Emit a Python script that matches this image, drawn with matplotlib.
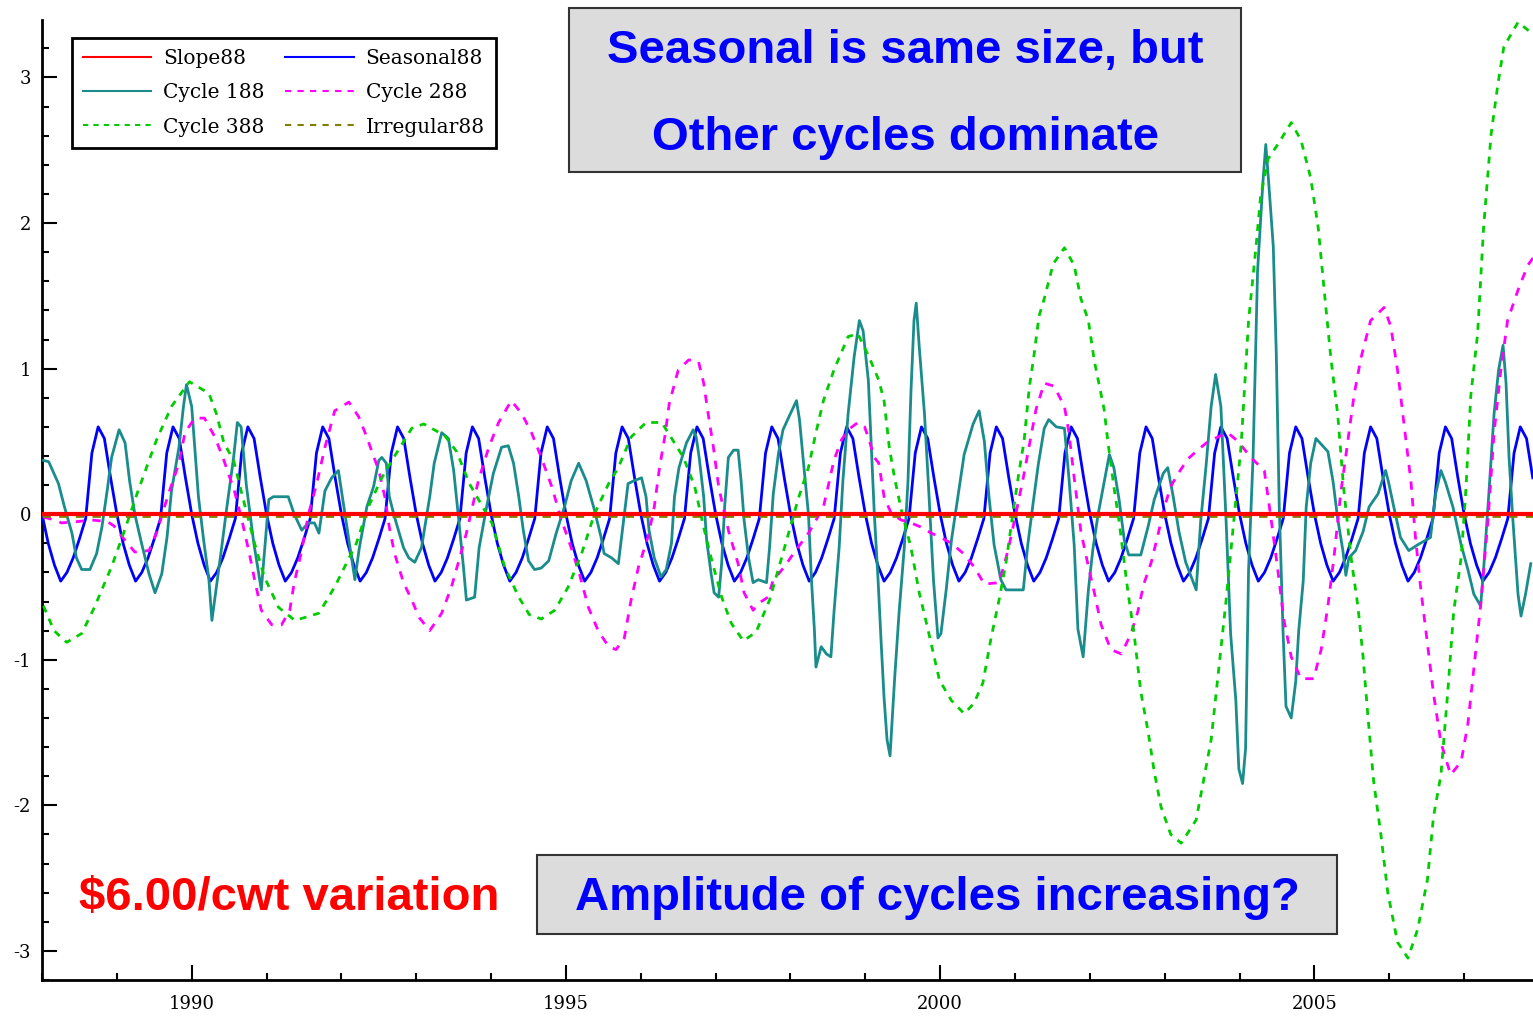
import numpy as np
import matplotlib
matplotlib.use('Agg')
import matplotlib.pyplot as plt
from matplotlib.patches import Rectangle
from matplotlib.ticker import MultipleLocator

plt.rcParams['axes.unicode_minus'] = False

# seasonal component, one value per month (Jan..Dec), same every year
seasonal_month = [0.0, -0.2, -0.35, -0.46, -0.4, -0.3, -0.17, -0.03, 0.42, 0.6, 0.52, 0.25]
n_years = 20

# cycle 188 (teal) at turning points
c188_year = [1988.02, 1988.09, 1988.22, 1988.30, 1988.40, 1988.46, 1988.53, 1988.64, 1988.73, 1988.80,
             1988.87, 1988.93, 1989.03, 1989.11, 1989.17, 1989.24, 1989.33, 1989.43, 1989.51, 1989.60,
             1989.67, 1989.73, 1989.83, 1989.89, 1989.93, 1990.00, 1990.04, 1990.09, 1990.16, 1990.23,
             1990.27, 1990.33, 1990.40, 1990.47, 1990.56, 1990.61, 1990.66, 1990.73, 1990.83, 1990.93,
             1991.03, 1991.09, 1991.29, 1991.37, 1991.47, 1991.56, 1991.64, 1991.70, 1991.78, 1991.87,
             1991.96, 1992.10, 1992.18, 1992.24, 1992.34, 1992.43, 1992.50, 1992.54, 1992.60, 1992.64,
             1992.71, 1992.83, 1992.90, 1992.98, 1993.07, 1993.18, 1993.24, 1993.34, 1993.43, 1993.50,
             1993.56, 1993.63, 1993.67, 1993.78, 1993.84, 1993.94, 1994.03, 1994.14, 1994.23, 1994.30,
             1994.37, 1994.43, 1994.50, 1994.58, 1994.67, 1994.77, 1994.87, 1994.98, 1995.07, 1995.17,
             1995.27, 1995.38, 1995.47, 1995.51, 1995.61, 1995.70, 1995.78, 1995.83, 1995.91, 1996.01,
             1996.07, 1996.11, 1996.18, 1996.27, 1996.34, 1996.41, 1996.45, 1996.51, 1996.61, 1996.70,
             1996.74, 1996.78, 1996.84, 1996.88, 1996.94, 1996.98, 1997.04, 1997.08, 1997.12, 1997.17,
             1997.24, 1997.30, 1997.34, 1997.38, 1997.44, 1997.50, 1997.57, 1997.68, 1997.72, 1997.77,
             1997.84, 1997.90, 1997.98, 1998.08, 1998.12, 1998.18, 1998.24, 1998.28, 1998.32, 1998.34,
             1998.41, 1998.48, 1998.54, 1998.58, 1998.65, 1998.70, 1998.77, 1998.85, 1998.92, 1998.97,
             1999.04, 1999.08, 1999.12, 1999.17, 1999.21, 1999.25, 1999.29, 1999.33, 1999.39, 1999.45,
             1999.52, 1999.57, 1999.61, 1999.65, 1999.68, 1999.72, 1999.79, 1999.84, 1999.91, 1999.97,
             2000.01, 2000.08, 2000.15, 2000.24, 2000.32, 2000.44, 2000.52, 2000.59, 2000.65, 2000.72,
             2000.81, 2000.88, 2001.11, 2001.17, 2001.24, 2001.31, 2001.39, 2001.45, 2001.55, 2001.66,
             2001.72, 2001.79, 2001.84, 2001.91, 2001.98, 2002.04, 2002.11, 2002.19, 2002.26, 2002.32,
             2002.39, 2002.46, 2002.52, 2002.68, 2002.78, 2002.86, 2002.98, 2003.04, 2003.11, 2003.19,
             2003.28, 2003.42, 2003.48, 2003.55, 2003.62, 2003.68, 2003.75, 2003.82, 2003.88, 2003.95,
             2003.99, 2004.04, 2004.08, 2004.12, 2004.18, 2004.24, 2004.31, 2004.35, 2004.39, 2004.45,
             2004.49, 2004.53, 2004.58, 2004.62, 2004.69, 2004.75, 2004.79, 2004.85, 2004.89, 2004.95,
             2005.02, 2005.11, 2005.18, 2005.25, 2005.31, 2005.38, 2005.42, 2005.46, 2005.55, 2005.65,
             2005.73, 2005.85, 2005.95, 2005.99, 2006.06, 2006.15, 2006.26, 2006.38, 2006.55, 2006.62,
             2006.69, 2006.75, 2006.85, 2006.96, 2007.05, 2007.13, 2007.22, 2007.26, 2007.33, 2007.40,
             2007.46, 2007.52, 2007.56, 2007.60, 2007.65, 2007.72, 2007.76, 2007.82, 2007.89]
c188_val = [0.37, 0.36, 0.21, 0.05, -0.13, -0.30, -0.38, -0.38, -0.27, -0.09,
            0.16, 0.39, 0.58, 0.49, 0.23, 0.0, -0.20, -0.41, -0.54, -0.41,
            -0.16, 0.16, 0.46, 0.74, 0.89, 0.74, 0.46, 0.12, -0.18, -0.45,
            -0.73, -0.50, -0.23, 0.05, 0.39, 0.63, 0.60, 0.20, -0.20, -0.52,
            0.10, 0.12, 0.12, 0.0, -0.11, -0.06, -0.06, -0.13, 0.16, 0.25,
            0.30, -0.18, -0.45, -0.23, 0.05, 0.19, 0.37, 0.39, 0.35, 0.12,
            -0.02, -0.23, -0.30, -0.33, -0.23, 0.12, 0.35, 0.56, 0.52, 0.30,
            0.0, -0.36, -0.59, -0.57, -0.23, 0.05, 0.28, 0.46, 0.47, 0.35,
            0.12, -0.11, -0.32, -0.38, -0.37, -0.32, -0.13, 0.05, 0.23, 0.35,
            0.23, 0.03, -0.16, -0.27, -0.30, -0.34, 0.0, 0.21, 0.23, 0.25,
            0.12, -0.11, -0.30, -0.43, -0.38, -0.20, 0.12, 0.32, 0.49, 0.58,
            0.53, 0.39, 0.12, -0.18, -0.41, -0.54, -0.57, -0.34, 0.05, 0.39,
            0.44, 0.44, 0.23, -0.04, -0.30, -0.47, -0.45, -0.47, -0.23, 0.14,
            0.42, 0.58, 0.67, 0.78, 0.65, 0.32, 0.0, -0.45, -0.80, -1.05,
            -0.91, -0.96, -0.98, -0.68, -0.23, 0.23, 0.69, 1.08, 1.33, 1.26,
            0.92, 0.46, 0.0, -0.45, -0.87, -1.26, -1.55, -1.66, -1.14, -0.68,
            -0.23, 0.23, 0.85, 1.33, 1.45, 1.15, 0.69, 0.23, -0.45, -0.85,
            -0.82, -0.52, -0.18, 0.13, 0.41, 0.62, 0.71, 0.50, 0.13, -0.21,
            -0.45, -0.52, -0.52, -0.21, 0.07, 0.34, 0.59, 0.65, 0.60, 0.59,
            0.25, -0.21, -0.79, -0.98, -0.52, -0.24, 0.0, 0.22, 0.41, 0.32,
            0.10, -0.18, -0.28, -0.28, -0.08, 0.10, 0.28, 0.32, 0.13, -0.12,
            -0.33, -0.52, -0.05, 0.32, 0.74, 0.96, 0.74, -0.05, -0.82, -1.28,
            -1.75, -1.85, -1.61, -0.38, 0.39, 1.67, 2.27, 2.54, 2.27, 1.84,
            1.11, 0.05, -0.80, -1.32, -1.40, -1.15, -0.80, -0.46, 0.05, 0.35,
            0.52, 0.47, 0.43, 0.22, -0.03, -0.25, -0.42, -0.30, -0.25, -0.12,
            0.05, 0.14, 0.30, 0.22, 0.05, -0.16, -0.25, -0.21, -0.16, 0.14,
            0.30, 0.22, 0.05, -0.21, -0.38, -0.55, -0.63, -0.38, 0.14, 0.69,
            0.99, 1.16, 0.90, 0.39, -0.03, -0.55, -0.70, -0.55, -0.34]

# cycle 288 (magenta dashed)
c288_year = [1988.02, 1988.17, 1988.26, 1988.49, 1988.66, 1988.87, 1988.96, 1989.11, 1989.24, 1989.43,
             1989.53, 1989.69, 1989.83, 1989.91, 1990.04, 1990.17, 1990.31, 1990.43, 1990.57, 1990.67,
             1990.77, 1990.84, 1990.93, 1991.07, 1991.20, 1991.31, 1991.37, 1991.47, 1991.56, 1991.67,
             1991.78, 1991.91, 1992.10, 1992.23, 1992.34, 1992.40, 1992.50, 1992.58, 1992.64, 1992.71,
             1992.83, 1992.94, 1993.04, 1993.18, 1993.34, 1993.47, 1993.58, 1993.67, 1993.83, 1993.97,
             1994.10, 1994.27, 1994.41, 1994.54, 1994.67, 1994.81, 1994.94, 1995.07, 1995.18, 1995.30,
             1995.43, 1995.57, 1995.67, 1995.78, 1995.87, 1995.97, 1996.10, 1996.18, 1996.25, 1996.32,
             1996.38, 1996.50, 1996.64, 1996.77, 1996.84, 1996.90, 1996.97, 1997.04, 1997.12, 1997.18,
             1997.30, 1997.38, 1997.50, 1997.58, 1997.70, 1997.77, 1997.84, 1997.92, 1998.04, 1998.14,
             1998.24, 1998.32, 1998.44, 1998.52, 1998.58, 1998.68, 1998.77, 1998.90, 1998.99, 1999.05,
             1999.12, 1999.18, 1999.25, 1999.35, 1999.48, 1999.61, 1999.75, 1999.88, 2000.01, 2000.15,
             2000.31, 2000.45, 2000.59, 2000.79, 2000.91, 2001.01, 2001.11, 2001.19, 2001.28, 2001.39,
             2001.52, 2001.66, 2001.72, 2001.79, 2001.88, 2001.98, 2002.06, 2002.15, 2002.28, 2002.42,
             2002.55, 2002.64, 2002.72, 2002.82, 2002.91, 2002.99, 2003.08, 2003.18, 2003.31, 2003.44,
             2003.58, 2003.71, 2003.84, 2003.98, 2004.15, 2004.33, 2004.42, 2004.51, 2004.59, 2004.69,
             2004.82, 2004.99, 2005.09, 2005.18, 2005.26, 2005.35, 2005.45, 2005.53, 2005.62, 2005.75,
             2005.93, 2006.02, 2006.11, 2006.19, 2006.29, 2006.35, 2006.42, 2006.51, 2006.59, 2006.69,
             2006.82, 2006.96, 2007.05, 2007.13, 2007.22, 2007.32, 2007.40, 2007.49, 2007.58, 2007.72,
             2007.85, 2007.92]
c288_val = [-0.02, -0.04, -0.06, -0.05, -0.04, -0.05, -0.08, -0.18, -0.26, -0.25,
            -0.13, 0.14, 0.35, 0.56, 0.66, 0.66, 0.53, 0.37, 0.16, -0.04,
            -0.27, -0.45, -0.66, -0.76, -0.76, -0.66, -0.47, -0.25, 0.0, 0.21,
            0.46, 0.71, 0.77, 0.67, 0.53, 0.44, 0.30, 0.12, -0.09, -0.27,
            -0.47, -0.59, -0.71, -0.80, -0.68, -0.50, -0.30, -0.13, 0.23, 0.46,
            0.63, 0.78, 0.69, 0.56, 0.39, 0.19, -0.04, -0.23, -0.41, -0.64,
            -0.80, -0.91, -0.93, -0.85, -0.59, -0.36, -0.15, 0.05, 0.32, 0.53,
            0.76, 0.99, 1.06, 1.05, 0.90, 0.69, 0.46, 0.19, 0.0, -0.13,
            -0.34, -0.54, -0.66, -0.61, -0.57, -0.45, -0.41, -0.36, -0.27, -0.20,
            -0.13, -0.06, 0.05, 0.23, 0.37, 0.51, 0.58, 0.63, 0.60, 0.51,
            0.39, 0.35, 0.12, 0.0, -0.04, -0.06, -0.09, -0.13, -0.16, -0.20,
            -0.27, -0.36, -0.48, -0.47, -0.24, 0.0, 0.25, 0.47, 0.72, 0.90,
            0.88, 0.74, 0.56, 0.25, -0.12, -0.36, -0.54, -0.76, -0.93, -0.96,
            -0.82, -0.67, -0.48, -0.33, -0.14, 0.04, 0.19, 0.28, 0.38, 0.44,
            0.50, 0.53, 0.56, 0.50, 0.39, 0.30, -0.03, -0.38, -0.72, -0.98,
            -1.13, -1.13, -0.93, -0.63, -0.30, 0.14, 0.52, 0.82, 1.07, 1.33,
            1.42, 1.29, 0.99, 0.65, 0.22, -0.16, -0.51, -0.89, -1.23, -1.57,
            -1.79, -1.70, -1.44, -1.06, -0.63, -0.03, 0.56, 0.99, 1.33, 1.54,
            1.71, 1.76]

# cycle 388 (green dashed)
c388_year = [1988.02, 1988.16, 1988.33, 1988.53, 1988.70, 1988.93, 1989.07, 1989.29, 1989.53, 1989.73,
             1989.97, 1990.23, 1990.33, 1990.43, 1990.56, 1990.67, 1990.84, 1990.97, 1991.16, 1991.38,
             1991.70, 1991.91, 1992.20, 1992.36, 1992.54, 1992.70, 1992.94, 1993.10, 1993.38, 1993.54,
             1993.71, 1994.01, 1994.18, 1994.37, 1994.51, 1994.67, 1994.85, 1995.03, 1995.21, 1995.38,
             1995.57, 1995.70, 1995.87, 1996.07, 1996.28, 1996.45, 1996.57, 1996.72, 1996.84, 1996.94,
             1997.08, 1997.21, 1997.37, 1997.54, 1997.72, 1997.92, 1998.10, 1998.24, 1998.34, 1998.44,
             1998.58, 1998.77, 1998.90, 1999.05, 1999.18, 1999.25, 1999.32, 1999.39, 1999.48, 1999.61,
             1999.72, 1999.84, 1999.99, 2000.15, 2000.32, 2000.45, 2000.57, 2000.68, 2000.79, 2000.88,
             2000.97, 2001.05, 2001.12, 2001.19, 2001.25, 2001.32, 2001.39, 2001.51, 2001.66, 2001.79,
             2001.88, 2001.98, 2002.06, 2002.12, 2002.19, 2002.24, 2002.32, 2002.39, 2002.51, 2002.59,
             2002.68, 2002.78, 2002.86, 2002.95, 2003.08, 2003.22, 2003.42, 2003.62, 2003.82, 2004.02,
             2004.12, 2004.22, 2004.28, 2004.38, 2004.51, 2004.69, 2004.82, 2004.95, 2005.05, 2005.13,
             2005.22, 2005.31, 2005.39, 2005.49, 2005.58, 2005.65, 2005.71, 2005.79, 2005.89, 2005.98,
             2006.11, 2006.25, 2006.38, 2006.51, 2006.59, 2006.69, 2006.78, 2006.86, 2006.96, 2007.02,
             2007.09, 2007.18, 2007.26, 2007.36, 2007.45, 2007.53, 2007.72, 2007.89]
c388_val = [-0.63, -0.80, -0.88, -0.82, -0.64, -0.36, -0.16, 0.17, 0.51, 0.74,
            0.91, 0.83, 0.69, 0.49, 0.37, 0.14, -0.20, -0.43, -0.64, -0.73,
            -0.68, -0.50, -0.20, 0.05, 0.25, 0.39, 0.59, 0.62, 0.54, 0.43,
            0.21, -0.06, -0.36, -0.57, -0.69, -0.72, -0.66, -0.50, -0.27, 0.0,
            0.21, 0.32, 0.53, 0.63, 0.63, 0.49, 0.39, 0.19, -0.09, -0.30,
            -0.57, -0.75, -0.87, -0.81, -0.59, -0.23, 0.10, 0.32, 0.56, 0.78,
            0.99, 1.22, 1.24, 1.08, 0.92, 0.78, 0.46, 0.25, 0.03, -0.23,
            -0.54, -0.80, -1.14, -1.28, -1.37, -1.30, -1.16, -0.85, -0.58, -0.33,
            0.0, 0.28, 0.50, 0.87, 1.08, 1.36, 1.48, 1.72, 1.83, 1.71,
            1.48, 1.33, 1.05, 0.90, 0.72, 0.50, 0.19, -0.05, -0.54, -0.82,
            -1.22, -1.50, -1.77, -2.01, -2.20, -2.26, -2.10, -1.55, -0.59, 0.47,
            1.33, 1.84, 2.18, 2.44, 2.54, 2.69, 2.57, 2.31, 1.97, 1.54,
            1.07, 0.69, 0.18, -0.30, -0.63, -0.98, -1.36, -1.83, -2.21, -2.60,
            -2.94, -3.05, -2.85, -2.51, -2.08, -1.79, -1.23, -0.67, -0.30, 0.14,
            0.82, 1.24, 1.97, 2.61, 2.95, 3.21, 3.38, 3.31]

# slope and irregular both sit on the zero line
flat_year = [1988.0, 2007.92]
slope_val = [0.0, 0.0]
irreg_val = [-0.01, -0.01]

# monthly dates for the seasonal series
month_year = 1988 + np.arange(12 * n_years) / 12.0
seasonal_val = np.tile(seasonal_month, n_years)

W, H = 1533, 1017
fig = plt.figure(figsize=(W / 100, H / 100), dpi=100)
ax = fig.add_axes([42 / W, 1 - 980 / H, 1491 / W, 960 / H])

ax.plot(month_year, seasonal_val, color='#0000ff', lw=2, label='Seasonal88', zorder=3)
ax.plot(c188_year, c188_val, color='#1a8c8c', lw=2, label='Cycle 188', zorder=3)
ax.plot(c288_year, c288_val, color='#ff00ff', lw=2, ls=(0, (3, 3)), label='Cycle 288', zorder=4)
ax.plot(c388_year, c388_val, color='#00cc00', lw=2, ls=(0, (2.5, 2.5)), label='Cycle 388', zorder=4)
ax.plot(flat_year, irreg_val, color='#808000', lw=2, ls=(0, (3, 3)), label='Irregular88', zorder=5)
ax.plot(flat_year, slope_val, color='#ff0000', lw=3, label='Slope88', zorder=6)

ax.set_xlim(1988.0, 2007.92)
ax.set_ylim(-3.2, 3.395)

for s in ['top', 'right']:
    ax.spines[s].set_visible(False)
for s in ['left', 'bottom']:
    ax.spines[s].set_linewidth(2)

ax.xaxis.set_major_locator(MultipleLocator(5))
ax.xaxis.set_minor_locator(MultipleLocator(1))
ax.yaxis.set_major_locator(MultipleLocator(1))
ax.yaxis.set_minor_locator(MultipleLocator(0.2))
ax.tick_params(which='major', direction='in', length=11, width=1.5, labelsize=13)
ax.tick_params(which='minor', direction='in', length=5, width=1.5)
ax.tick_params(axis='x', which='major', pad=11)
ax.tick_params(axis='y', which='major', pad=8)
for lab in ax.get_xticklabels() + ax.get_yticklabels():
    lab.set_family('DejaVu Serif')

# legend, two columns in the same order as the picture
h, l = ax.get_legend_handles_labels()
order = ['Slope88', 'Cycle 188', 'Cycle 388', 'Seasonal88', 'Cycle 288', 'Irregular88']
hh = [h[l.index(o)] for o in order]
leg = ax.legend(hh, order, ncol=2, loc='upper left', bbox_to_anchor=(0.02, 0.981),
                borderaxespad=0, prop={'family': 'DejaVu Serif', 'size': 14.5},
                handlelength=3.4, handletextpad=0.6, columnspacing=1.0,
                labelspacing=0.75, fancybox=False, framealpha=1, borderpad=0.55)
leg.get_frame().set_edgecolor('black')
leg.get_frame().set_linewidth(2)
for line in leg.get_lines():
    line.set_linewidth(1.5)

# annotation boxes
fig.add_artist(Rectangle((569 / W, 1 - 172 / H), 672 / W, 164 / H, transform=fig.transFigure,
                         facecolor='#dcdcdc', edgecolor='#333333', lw=1.5))
fig.add_artist(Rectangle((537 / W, 1 - 934 / H), 800 / W, 79 / H, transform=fig.transFigure,
                         facecolor='#dcdcdc', edgecolor='#333333', lw=1.5))

tkw = dict(fontsize=34, fontweight='bold', family='Liberation Sans', ha='center', va='center')
fig.text(905 / W, 1 - 51 / H, 'Seasonal is same size, but', color='#0000ff', **tkw)
fig.text(905 / W, 1 - 138 / H, 'Other cycles dominate', color='#0000ff', **tkw)
fig.text(937 / W, 1 - 898 / H, 'Amplitude of cycles increasing?', color='#0000ff', **tkw)
fig.text(289 / W, 1 - 898 / H, r'\$6.00/cwt variation', color='#ff0000', **tkw)

fig.savefig('out.png', dpi=100)
